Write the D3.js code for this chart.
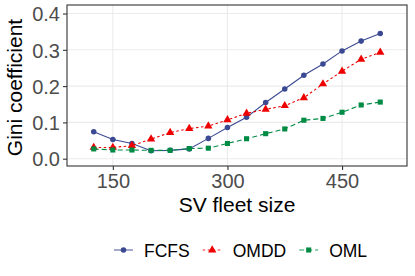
<!DOCTYPE html>
<html>
<head>
<meta charset="utf-8">
<script src="https://cdn.jsdelivr.net/npm/d3@7"></script>
<style>
  body { margin: 0; background: #fff; }
  text { font-family: "Liberation Sans", Arial, sans-serif; }
</style>
</head>
<body>
<svg id="chart" width="415" height="276"></svg>
<script>
// fleet sizes on the x axis
const fleetSizes = [125, 150, 175, 200, 225, 250, 275, 300, 325, 350, 375, 400, 425, 450, 475, 500];
// Gini coefficient per policy
const fcfs = [0.074, 0.053, 0.042, 0.022, 0.023, 0.027, 0.056, 0.086, 0.114, 0.155, 0.192, 0.230, 0.261, 0.297, 0.324, 0.345];
const omdd = [0.031, 0.031, 0.036, 0.054, 0.072, 0.083, 0.090, 0.107, 0.125, 0.136, 0.146, 0.168, 0.206, 0.241, 0.274, 0.293];
const oml  = [0.027, 0.024, 0.024, 0.023, 0.023, 0.028, 0.029, 0.042, 0.055, 0.069, 0.082, 0.106, 0.111, 0.128, 0.148, 0.156];
const seriesNames = ['FCFS', 'OMDD', 'OML'];
const xTicks = [150, 300, 450];
const yTicks = [0.0, 0.1, 0.2, 0.3, 0.4];

const colors = { FCFS: '#3B4992', OMDD: '#EE0000', OML: '#008B45' };
const dashes = { FCFS: null, OMDD: '2.5,2.5', OML: '5,3' };
const shapes = { FCFS: d3.symbolCircle, OMDD: d3.symbolTriangle, OML: d3.symbolSquare };
const shapeSize = { FCFS: 24, OMDD: 30, OML: 26 };

const series = [fcfs, omdd, oml].map((vals, i) => ({
    name: seriesNames[i],
    values: vals.map((v, j) => ({ x: fleetSizes[j], y: v }))
}));

const svg = d3.select('#chart');
const panel = { left: 67, right: 407, top: 5, bottom: 166 };

const x = d3.scaleLinear().domain([90, 535]).range([panel.left, panel.right]);
const y = d3.scaleLinear().domain([-0.0201, 0.4235]).range([panel.bottom, panel.top]);

// grid
svg.append('g')
    .selectAll('line.hy')
    .data(yTicks)
    .join('line')
    .attr('x1', panel.left).attr('x2', panel.right)
    .attr('y1', d => y(d)).attr('y2', d => y(d))
    .attr('stroke', '#EBEBEB').attr('stroke-width', 1.1);
svg.append('g')
    .selectAll('line.vx')
    .data(xTicks)
    .join('line')
    .attr('x1', d => x(d)).attr('x2', d => x(d))
    .attr('y1', panel.top).attr('y2', panel.bottom)
    .attr('stroke', '#EBEBEB').attr('stroke-width', 1.1);

// axes
const xAxis = svg.append('g')
    .attr('transform', `translate(0,${panel.bottom})`)
    .call(d3.axisBottom(x).tickValues(xTicks).tickSize(4).tickPadding(4));
const yAxis = svg.append('g')
    .attr('transform', `translate(${panel.left},0)`)
    .call(d3.axisLeft(y).tickValues(yTicks).tickFormat(d3.format('.1f')).tickSize(4).tickPadding(3));
[xAxis, yAxis].forEach(g => {
    g.select('.domain').remove();
    g.selectAll('.tick line').attr('stroke', '#333333').attr('stroke-width', 1.1);
    g.selectAll('.tick text')
        .attr('fill', '#4D4D4D')
        .style('font-size', '20px')
        .style('font-family', '"Liberation Sans", Arial, sans-serif');
});
xAxis.selectAll('.tick text').attr('dy', null).attr('y', 22);
yAxis.selectAll('.tick text').attr('dy', '0.36em');

// panel border
svg.append('rect')
    .attr('x', panel.left).attr('y', panel.top)
    .attr('width', panel.right - panel.left)
    .attr('height', panel.bottom - panel.top)
    .attr('fill', 'none')
    .attr('stroke', '#333333')
    .attr('stroke-width', 1.1);

// lines + points
const line = d3.line().x(d => x(d.x)).y(d => y(d.y));
const sg = svg.append('g')
    .selectAll('g.series')
    .data(series)
    .join('g');
sg.append('path')
    .attr('d', d => line(d.values))
    .attr('fill', 'none')
    .attr('stroke', d => colors[d.name])
    .attr('stroke-width', 1.1)
    .attr('stroke-dasharray', d => dashes[d.name]);
sg.each(function(s) {
    d3.select(this).selectAll('path.pt')
        .data(s.values)
        .join('path')
        .attr('class', 'pt')
        .attr('transform', d => `translate(${x(d.x)},${y(d.y)})`)
        .attr('d', d3.symbol().type(shapes[s.name]).size(shapeSize[s.name]))
        .attr('fill', colors[s.name]);
});

// axis titles
svg.append('text')
    .attr('x', (panel.left + panel.right) / 2)
    .attr('y', 212)
    .attr('text-anchor', 'middle')
    .style('font-size', '21px')
    .text('SV fleet size');
svg.append('text')
    .attr('transform', `translate(22,${(panel.top + panel.bottom) / 2 + 2}) rotate(-90)`)
    .attr('text-anchor', 'middle')
    .style('font-size', '21px')
    .text('Gini coefficient');

// legend
const legend = svg.append('g');
let lx = 114;
const ly = 250;
seriesNames.forEach(name => {
    legend.append('line')
        .attr('x1', lx).attr('x2', lx + 19)
        .attr('y1', ly).attr('y2', ly)
        .attr('stroke', colors[name])
        .attr('stroke-opacity', 0.85)
        .attr('stroke-width', 1.1)
        .attr('stroke-dasharray', dashes[name]);
    legend.append('path')
        .attr('transform', `translate(${lx + 9.5},${ly})`)
        .attr('d', d3.symbol().type(shapes[name]).size(shapeSize[name]))
        .attr('fill', colors[name]);
    const t = legend.append('text')
        .attr('x', lx + 30)
        .attr('y', ly + 6.5)
        .style('font-size', '17.5px')
        .text(name);
    lx += 30 + t.node().getComputedTextLength() + 13;
});
</script>
</body>
</html>
